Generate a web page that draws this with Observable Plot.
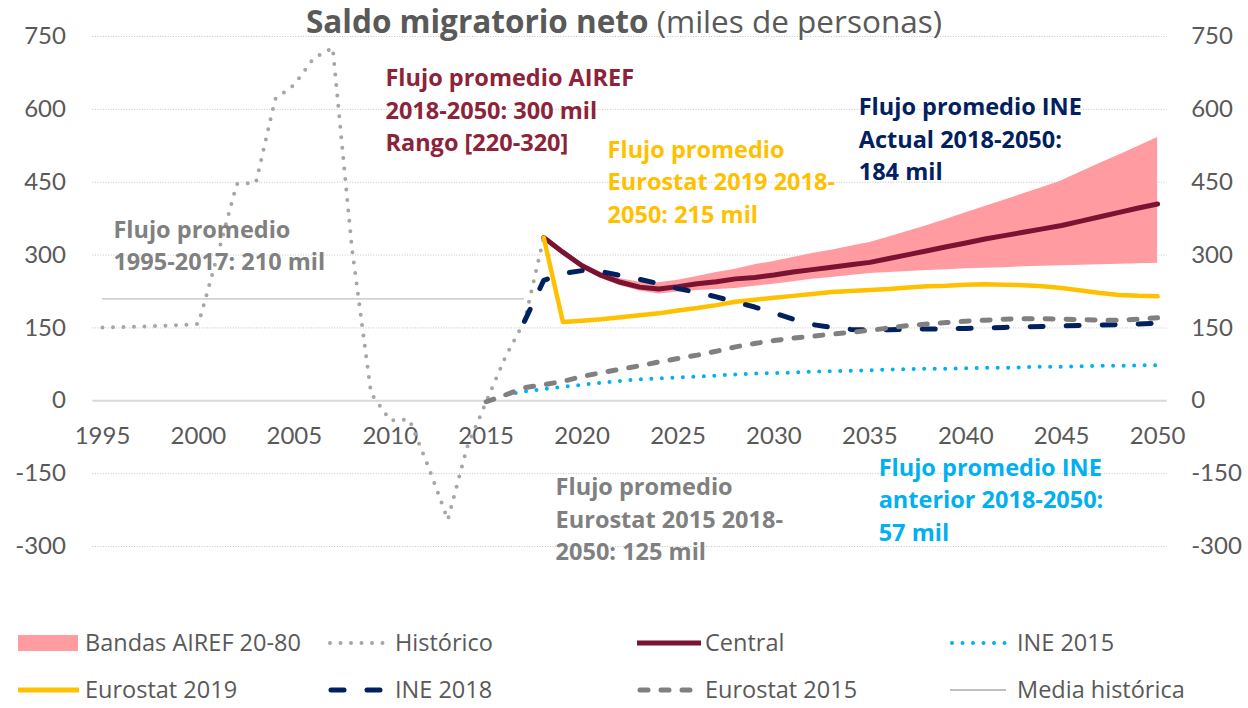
<!DOCTYPE html>
<html><head><meta charset="utf-8">
<script src="https://cdn.jsdelivr.net/npm/d3@7"></script>
<script src="https://cdn.jsdelivr.net/npm/@observablehq/plot@0.6"></script>
<style>
body{margin:0;background:#fff;font-family:Lato, "Open Sans", sans-serif;}
#wrap{position:relative;width:1248px;height:708px;overflow:hidden;background:#fff}
#chart{position:absolute;left:0;top:0}
#title{position:absolute;left:0;width:1248px;top:5px;line-height:1;text-align:center;font-family:"Open Sans", sans-serif;font-size:31.5px;color:#595959;white-space:nowrap}
.leg{position:absolute;height:30px;font-family:"Open Sans", sans-serif;font-size:23.5px;color:#595959;white-space:nowrap}
.leg svg{position:absolute;left:0;top:0}
.leg span{position:absolute;top:1px;line-height:26px}
</style></head>
<body>
<div id="wrap"><div id="chart"></div><div id="title"><b>Saldo migratorio neto</b> (miles de personas)</div></div>
<script>
// ---------- DATA ----------
const histYears = [1995,1996,1997,1998,1999,2000,2001,2002,2003,2004,2005,2006,2007,2008,2009,2010,2011,2012,2013,2014,2015,2016,2017,2018];
const historico = [151,152,153,154,156,158,300,446,449,621,651,705,727,315,15,-40,-39,-137,-245,-96,-2,90,164,336];

const projYears = [2018,2019,2020,2021,2022,2023,2024,2025,2026,2027,2028,2029,2030,2031,2032,2033,2034,2035,2036,2037,2038,2039,2040,2041,2042,2043,2044,2045,2046,2047,2048,2049,2050];
const central = [336,306,278,258,244,234,230,235,241,245,251,254,259,265,270,275,280,285,293,301,309,317,325,333,340,347,354,361,370,379,388,397,405];
const eurostat2019 = [336,162,165,168,172,176,180,186,191,197,204,208,212,216,220,224,226,228,230,233,236,237,239,240,239,238,236,232,227,222,218,216,215];

const bandYears = [2019,2020,2021,2022,2023,2024,2025,2026,2027,2028,2029,2030,2031,2032,2033,2034,2035,2036,2037,2038,2039,2040,2041,2042,2043,2044,2045,2046,2047,2048,2049,2050];
const bandUpper = [310,283,264,251,244,243,248,256,264,271,280,287,295,303,310,318,326,337,349,361,374,387,400,413,426,439,453,471,489,506,524,542];
const bandLower = [302,272,252,237,226,220,224,227,229,231,236,240,245,250,254,258,262,264,266,268,270,272,273,274,276,277,278,279,280,281,282,283];

const ine2018Years = [2017,2018,2019,2020,2021,2022,2023,2024,2025,2026,2027,2028,2029,2030,2031,2032,2033,2034,2035,2036,2037,2038,2039,2040,2041,2042,2043,2044,2045,2046,2047,2048,2049,2050];
const ine2018 = [164,248,262,268,266,258,250,241,231,223,214,203,193,181,168,157,151,147,146,146,147,148,148,149,150,151,152,153,154,155,156,157,158,160];

const eurostat2015Years = [2015,2016,2017,2018,2019,2020,2021,2022,2023,2024,2025,2026,2027,2028,2029,2030,2031,2032,2033,2034,2035,2036,2037,2038,2039,2040,2041,2042,2043,2044,2045,2046,2047,2048,2049,2050];
const eurostat2015 = [-2,12,27,33,40,50,58,65,72,80,87,94,102,111,118,124,129,133,137,141,145,150,155,158,161,164,166,168,169,169,168,167,166,166,168,171];

const ine2015Years = [2016,2017,2018,2019,2020,2021,2022,2023,2024,2025,2026,2027,2028,2029,2030,2031,2032,2033,2034,2035,2036,2037,2038,2039,2040,2041,2042,2043,2044,2045,2046,2047,2048,2049,2050];
const ine2015 = [12,19,24,29,33,37,41,44,46,48,50,52,54,56,57,58,60,61,62,63,64,65,66,66,67,68,68,69,70,70,71,72,72,73,73];

const mediaHistorica = 210;
const mediaPeriod = [1995, 2017];

const yTicks = [-300,-150,0,150,300,450,600,750];
const xTicks = [1995,2000,2005,2010,2015,2020,2025,2030,2035,2040,2045,2050];

const legendLabels = ["Bandas AIREF 20-80","Histórico","Central","INE 2015","Eurostat 2019","INE 2018","Eurostat 2015","Media histórica"];

const annotations = [
  {text:"Flujo promedio AIREF\n2018-2050: 300 mil\nRango [220-320]", color:"#8E2239"},
  {text:"Flujo promedio\nEurostat 2019 2018-\n2050: 215 mil", color:"#FFC000"},
  {text:"Flujo promedio INE\nActual 2018-2050:\n184 mil", color:"#002060"},
  {text:"Flujo promedio\n1995-2017: 210 mil", color:"#808080"},
  {text:"Flujo promedio\nEurostat 2015 2018-\n2050: 125 mil", color:"#808080"},
  {text:"Flujo promedio INE\nanterior 2018-2050:\n57 mil", color:"#00B0F0"}
];
// annotation anchors (year, value) – placement only
const annotationAnchors = [[2009.75,602],[2021.33,455],[2034.42,542],[1995.57,324],[2018.62,-240],[2035.46,-200]];

// ---------- BUILD ----------
const zip = (xs, ys) => xs.map((x,i) => ({x, y: ys[i]}));
const band = bandYears.map((x,i) => ({x, lo: bandLower[i], hi: bandUpper[i]}));
const ann = annotations.map((a,i) => ({...a, x: annotationAnchors[i][0], y: annotationAnchors[i][1]}));

const C = {
  band:"#FF9BA1", hist:"#A6A6A6", central:"#7A1232", ine2015:"#00B0F0",
  e2019:"#FFC000", ine2018:"#002060", e2015:"#808080", media:"#BFBFBF"
};

const fmt = d => String(d);

const chart = Plot.plot({
  width: 1248, height: 600,
  marginTop: 36, marginBottom: 54, marginLeft: 92.4, marginRight: 81.3,
  style: {fontFamily: "Lato, 'Open Sans', sans-serif", color: "#595959", background: "transparent", overflow: "visible"},
  x: {domain: [1994.5, 2050.5], axis: null},
  y: {domain: [-300, 750], axis: null},
  marks: [
    Plot.ruleY(yTicks.filter(d => d !== 0), {stroke: "#C4C4C4", strokeWidth: 1, strokeDasharray: "1,1.6"}),
    Plot.ruleY([0], {stroke: "#D9D9D9", strokeWidth: 2}),
    Plot.axisY({anchor: "left", ticks: yTicks, tickSize: 0, tickPadding: 27, fontSize: 24, tickFormat: fmt, label: null}),
    Plot.axisY({anchor: "right", ticks: yTicks, tickSize: 0, tickPadding: 24, fontSize: 24, tickFormat: fmt, label: null}),
    Plot.text(xTicks, {x: d => d, y: 0, dy: 36, text: fmt, fontSize: 24, fill: "#595959"}),
    Plot.areaY(band, {x: "x", y1: "lo", y2: "hi", fill: C.band, curve: "linear"}),
    Plot.line(zip(histYears, historico), {x: "x", y: "y", stroke: C.hist, strokeWidth: 4, strokeDasharray: "0,10.5", strokeLinecap: "round"}),
    Plot.line(zip(projYears, central), {x: "x", y: "y", stroke: C.central, strokeWidth: 5, strokeLinejoin: "round"}),
    Plot.line(zip(ine2015Years, ine2015), {x: "x", y: "y", stroke: C.ine2015, strokeWidth: 4, strokeDasharray: "0,10.5", strokeLinecap: "round"}),
    Plot.line(zip(projYears, eurostat2019), {x: "x", y: "y", stroke: C.e2019, strokeWidth: 4.5}),
    Plot.line(zip(ine2018Years, ine2018), {x: "x", y: "y", stroke: C.ine2018, strokeWidth: 5, strokeDasharray: "13,23", strokeLinecap: "round"}),
    Plot.line(zip(eurostat2015Years, eurostat2015), {x: "x", y: "y", stroke: C.e2015, strokeWidth: 5, strokeDasharray: "8,13", strokeLinecap: "round"}),
    Plot.ruleY([mediaHistorica], {x1: mediaPeriod[0], x2: mediaPeriod[1], stroke: C.media, strokeWidth: 1.3}),
    Plot.text(ann, {x: "x", y: "y", text: "text", fill: "color", fontFamily: "'Open Sans', sans-serif", fontSize: 23.5, fontWeight: "bold", textAnchor: "start", lineAnchor: "middle", lineHeight: 1.383})
  ]
});
document.getElementById("chart").appendChild(chart);

// ---------- LEGEND ----------
const legendSwatch = [
  s => s.append("rect").attr("x",0).attr("y",7).attr("width",60).attr("height",16).attr("fill",C.band),
  s => s.append("line").attr("x1",2).attr("x2",56).attr("y1",15).attr("y2",15).attr("stroke",C.hist).attr("stroke-width",4).attr("stroke-dasharray","0,10.5").attr("stroke-linecap","round"),
  s => s.append("line").attr("x1",0).attr("x2",64).attr("y1",15).attr("y2",15).attr("stroke",C.central).attr("stroke-width",5),
  s => s.append("line").attr("x1",2).attr("x2",56).attr("y1",15).attr("y2",15).attr("stroke",C.ine2015).attr("stroke-width",4).attr("stroke-dasharray","0,10.5").attr("stroke-linecap","round"),
  s => s.append("line").attr("x1",0).attr("x2",61).attr("y1",15).attr("y2",15).attr("stroke",C.e2019).attr("stroke-width",5),
  s => s.append("line").attr("x1",3).attr("x2",56).attr("y1",15).attr("y2",15).attr("stroke",C.ine2018).attr("stroke-width",5).attr("stroke-dasharray","13,23").attr("stroke-linecap","round"),
  s => s.append("line").attr("x1",3).attr("x2",62).attr("y1",15).attr("y2",15).attr("stroke",C.e2015).attr("stroke-width",5).attr("stroke-dasharray","8,13").attr("stroke-linecap","round"),
  s => s.append("line").attr("x1",0).attr("x2",56).attr("y1",15).attr("y2",15).attr("stroke",C.media).attr("stroke-width",2)
];
const colX = [18, 328, 637, 950];
const textOff = [67, 67, 68, 67];
const rowY = [628, 675];
const wrap = d3.select("#wrap");
legendLabels.forEach((lab, i) => {
  const col = i % 4, row = Math.floor(i / 4);
  const item = wrap.append("div").attr("class","leg").style("left", colX[col] + "px").style("top", rowY[row] + "px").style("width","300px");
  const svg = item.append("svg").attr("width",70).attr("height",30);
  legendSwatch[i](svg);
  item.append("span").style("left", textOff[col] + "px").text(lab);
});
</script>
</body></html>
